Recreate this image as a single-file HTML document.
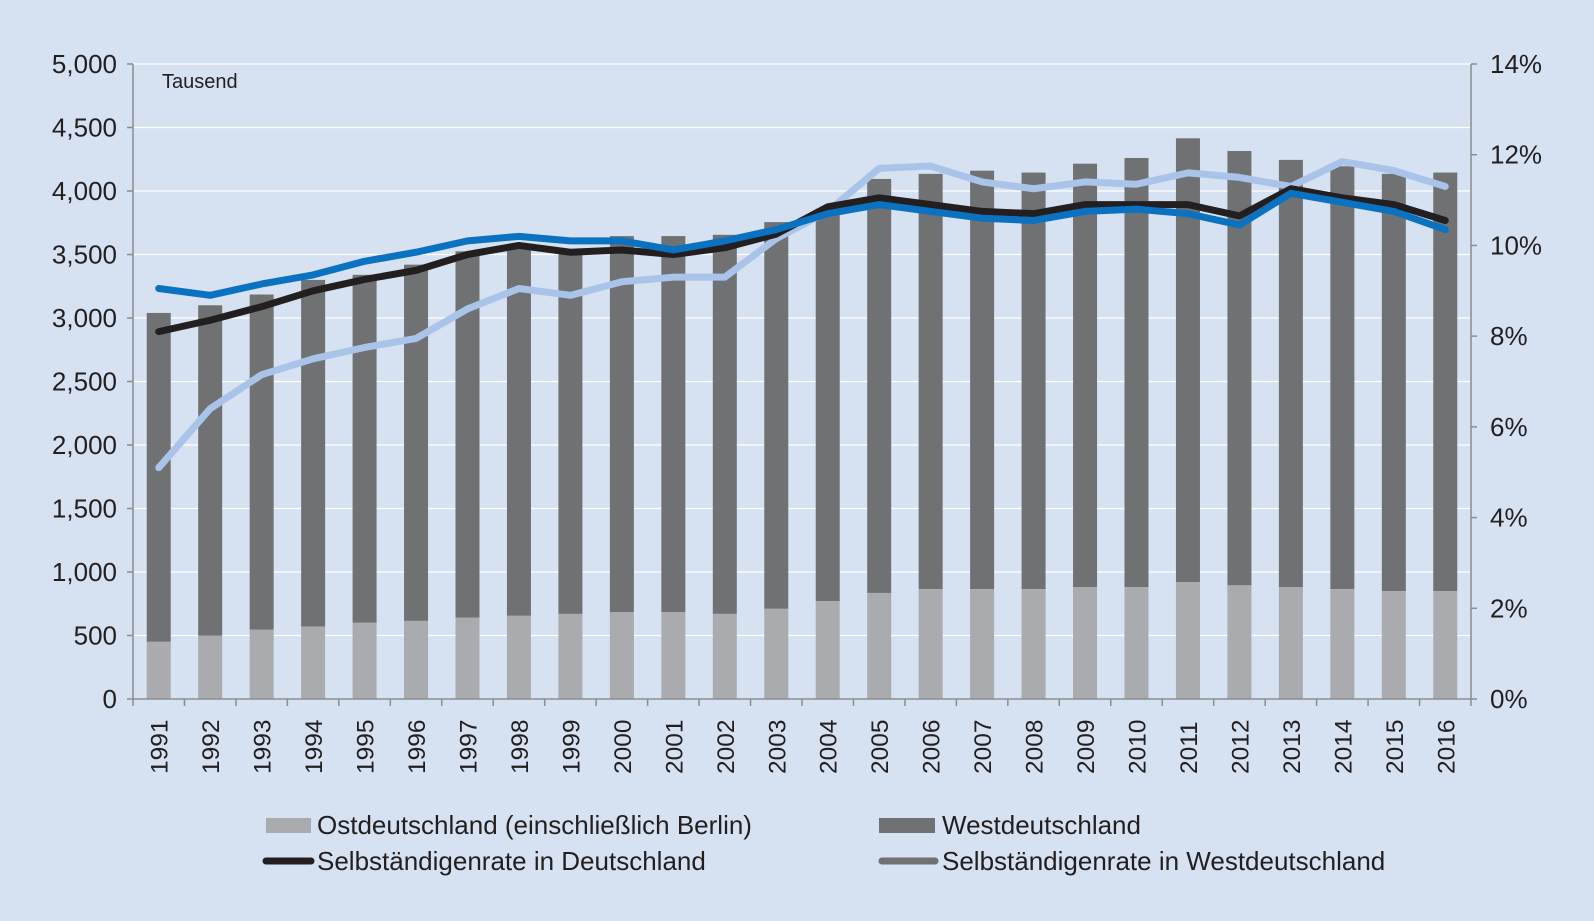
<!DOCTYPE html>
<html><head><meta charset="utf-8"><style>
body{margin:0;background:#d6e1f1;}
svg{display:block;font-family:"Liberation Sans",sans-serif;}
</style></head><body>
<svg id="chart" width="1594" height="921" viewBox="0 0 1594 921">
<rect x="0" y="0" width="1594" height="921" fill="#d6e1f1"/>
<g id="grid"></g>
<g id="bars"></g>
<g id="lines"></g>
<g id="axes"></g>
<text x="162" y="88" font-size="20" fill="#231f20">Tausend</text>
<g font-size="26" fill="#231f20">
<g><rect x="266" y="818" width="45" height="15" fill="#a9abae"/><text x="317" y="834">Ostdeutschland (einschließlich Berlin)</text></g>
<g><rect x="879" y="818" width="56" height="15" fill="#707173"/><text x="942" y="834">Westdeutschland</text></g>
<g><line x1="266" y1="861" x2="311" y2="861" stroke="#231f20" stroke-width="7" stroke-linecap="round"/><text x="317" y="870">Selbständigenrate in Deutschland</text></g>
<g><line x1="882" y1="861" x2="935" y2="861" stroke="#707173" stroke-width="7" stroke-linecap="round"/><text x="942" y="870">Selbständigenrate in Westdeutschland</text></g>
</g>
</svg>
<script>
const years=[1991,1992,1993,1994,1995,1996,1997,1998,1999,2000,2001,2002,2003,2004,2005,2006,2007,2008,2009,2010,2011,2012,2013,2014,2015,2016];
const ost=[450,500,545,570,600,615,640,655,670,685,685,670,710,770,835,865,865,865,880,880,920,895,880,865,850,850];
const total=[3040,3100,3185,3300,3340,3420,3525,3560,3530,3645,3645,3655,3755,3860,4095,4135,4160,4145,4215,4260,4415,4315,4245,4195,4135,4145];
const rateDE=[8.1,8.35,8.65,9.0,9.25,9.45,9.8,10.0,9.85,9.9,9.8,9.95,10.25,10.85,11.05,10.9,10.75,10.7,10.9,10.9,10.9,10.65,11.25,11.05,10.9,10.55];
const rateWest=[9.05,8.9,9.15,9.35,9.65,9.85,10.1,10.2,10.1,10.1,9.9,10.1,10.35,10.7,10.9,10.75,10.6,10.55,10.75,10.8,10.7,10.45,11.15,10.95,10.75,10.35];
const rateOst=[5.1,6.4,7.15,7.5,7.75,7.95,8.6,9.05,8.9,9.2,9.3,9.3,10.15,10.75,11.7,11.75,11.4,11.25,11.4,11.35,11.6,11.5,11.3,11.85,11.65,11.3];
const leftTicks=[0,500,1000,1500,2000,2500,3000,3500,4000,4500,5000];
const rightTicks=[0,2,4,6,8,10,12,14];
const NS="http://www.w3.org/2000/svg";
const X0=133,X1=1471,Y0=699,Y1=64;
const step=(X1-X0)/years.length;
const x=i=>X0+step*(i+0.5);
const yL=v=>Y0-(v/5000)*(Y0-Y1);
const yR=v=>Y0-(v/14)*(Y0-Y1);
function mk(tag,attrs,parent){const e=document.createElementNS(NS,tag);for(const k in attrs)e.setAttribute(k,attrs[k]);parent.appendChild(e);return e;}
const grid=document.getElementById('grid'),bars=document.getElementById('bars'),lines=document.getElementById('lines'),axes=document.getElementById('axes');
leftTicks.forEach(v=>{
  const l=mk('line',{x1:X0,x2:X1,y1:yL(v),y2:yL(v),stroke:'#ffffff','stroke-width':1.2},grid);
  
  
  mk('line',{x1:X0-6,x2:X0,y1:yL(v),y2:yL(v),stroke:'#8a8c8f','stroke-width':1.5},axes);
  const t=mk('text',{x:X0-16,y:yL(v)+9,'text-anchor':'end','font-size':26,fill:'#231f20'},axes);
  t.textContent=v.toLocaleString('en-US');
  
  
});
rightTicks.forEach(v=>{
  mk('line',{x1:X1,x2:X1+6,y1:yR(v),y2:yR(v),stroke:'#8a8c8f','stroke-width':1.5},axes);
  const t=mk('text',{x:X1+19,y:yR(v)+9,'font-size':26,fill:'#231f20'},axes);
  t.textContent=v+'%';
  
  
});
years.forEach((yr,i)=>{
  const bw=24;
  const w=mk('rect',{x:x(i)-bw/2,y:yL(total[i]),width:bw,height:yL(ost[i])-yL(total[i]),fill:'#707173'},bars);
  
  
  const o=mk('rect',{x:x(i)-bw/2,y:yL(ost[i]),width:bw,height:Y0-yL(ost[i]),fill:'#a9abae'},bars);
  
  
  const t=mk('text',{transform:`translate(${x(i)+9},${Y0+75}) rotate(-90)`,'font-size':24.5,fill:'#231f20'},axes);
  t.textContent=yr;
  
  
  mk('line',{x1:X0+step*i,x2:X0+step*i,y1:Y0,y2:Y0+7,stroke:'#8a8c8f','stroke-width':1.5},axes);
});
mk('line',{x1:X1,x2:X1,y1:Y0,y2:Y0+7,stroke:'#8a8c8f','stroke-width':1.5},axes);
mk('line',{x1:X0,x2:X0,y1:Y1,y2:Y0,stroke:'#8a8c8f','stroke-width':1.5},axes);
mk('line',{x1:X1,x2:X1,y1:Y1,y2:Y0,stroke:'#8a8c8f','stroke-width':1.5},axes);
mk('line',{x1:X0,x2:X1,y1:Y0,y2:Y0,stroke:'#8a8c8f','stroke-width':1.5},axes);
function line(data,color,name){
  const p=mk('polyline',{points:data.map((v,i)=>x(i)+','+yR(v)).join(' '),fill:'none',stroke:color,'stroke-width':7,'stroke-linejoin':'round','stroke-linecap':'round'},lines);
  
  
}
line(rateOst,'#a9c4e8','line-rate-ost');
line(rateDE,'#231f20','line-rate-deutschland');
line(rateWest,'#0a72c0','line-rate-west');
</script>
</body></html>
